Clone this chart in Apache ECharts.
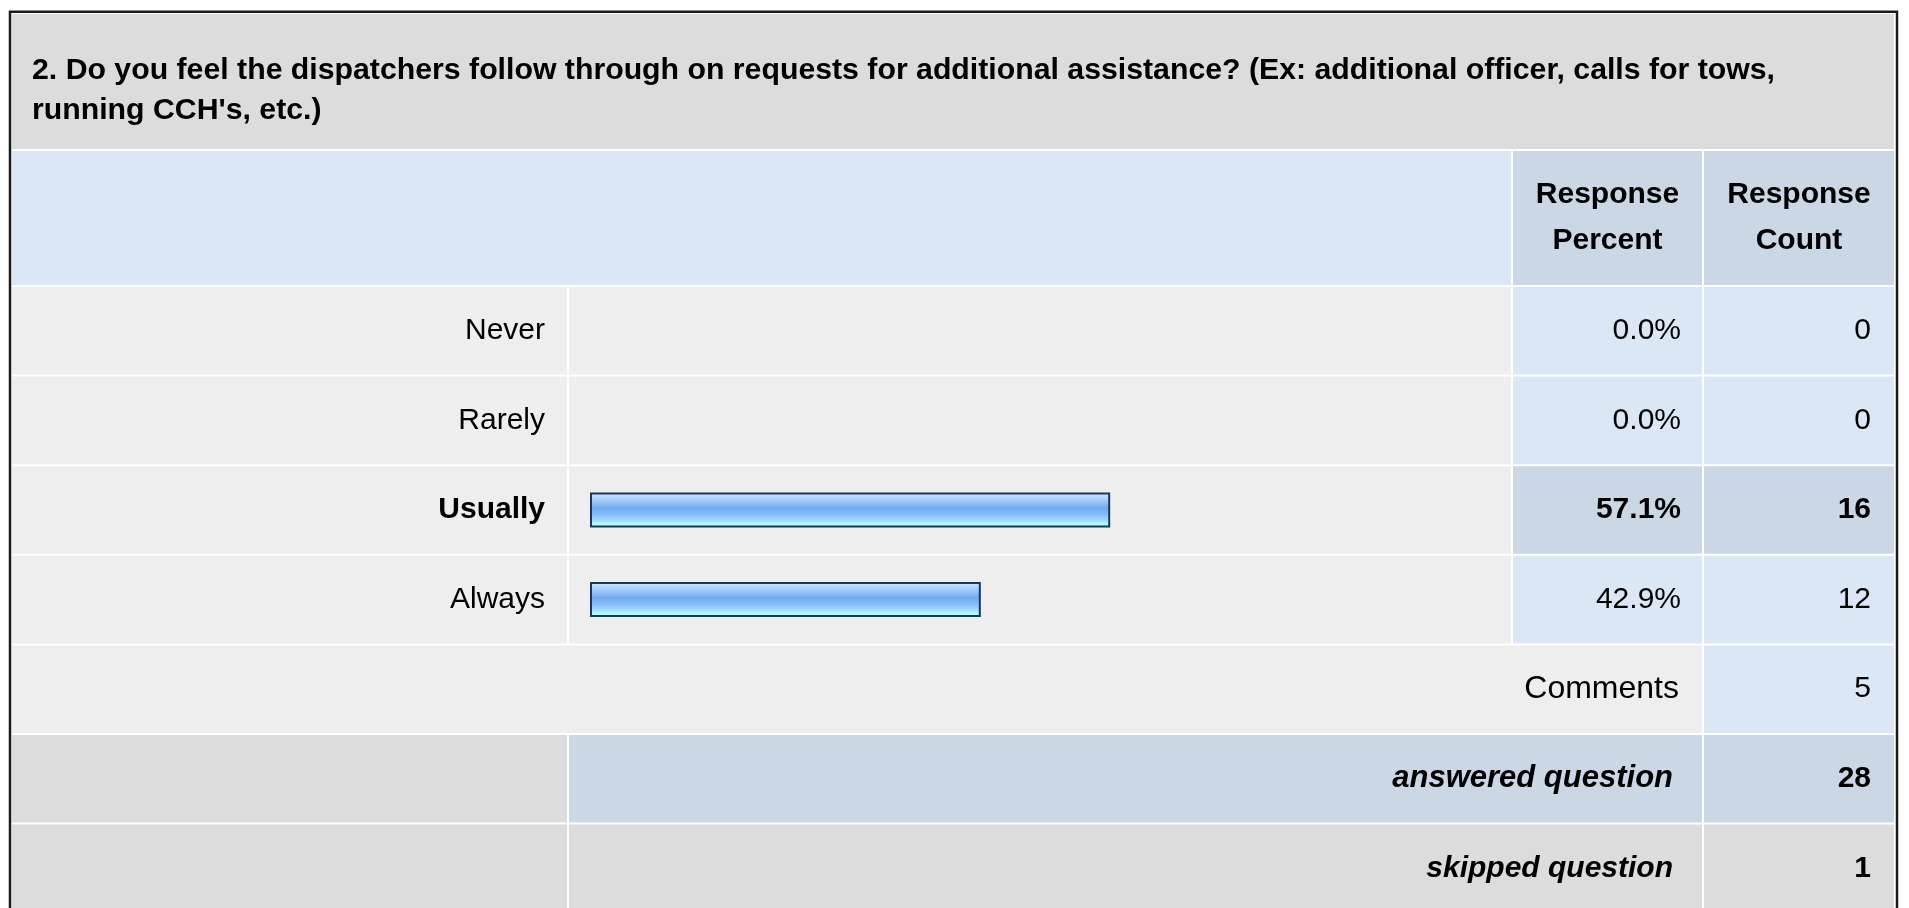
<!DOCTYPE html>
<html>
<head>
<meta charset="utf-8">
<title>Dispatcher follow-through</title>
<script src="https://cdn.jsdelivr.net/npm/echarts@6/dist/echarts.min.js"></script>
<style>
  html, body { margin: 0; padding: 0; background: #fff; }
  #chart { width: 1909px; height: 908px; }
</style>
</head>
<body>
<div id="chart"></div>
<script>
// Survey data
const questionText = "2. Do you feel the dispatchers follow through on requests for additional assistance? (Ex: additional officer, calls for tows,\nrunning CCH's, etc.)";
const answers = ['Never', 'Rarely', 'Usually', 'Always'];
const responsePercent = [0.0, 0.0, 57.1, 42.9];
const responseCount = [0, 0, 16, 12];
const headerLabels = ['Response\nPercent', 'Response\nCount'];
const commentsLabel = 'Comments';
const commentsCount = 5;
const answeredLabel = 'answered question';
const answeredCount = 28;
const skippedLabel = 'skipped question';
const skippedCount = 1;

// Table layout
const FONT = '"Liberation Sans", Arial, Helvetica, sans-serif';
const GAP = 2;
const TABLE_L = 12, TABLE_R = 1894;
const COL_LABEL_R = 567;      // label column right edge
const COL_BAR_R = 1511;       // bar column right edge
const COL_PCT_R = 1702;       // percent column right edge
const TITLE_T = 14, TITLE_B = 149;
const HEAD_T = 151, HEAD_B = 285;
const ROW_T = 287;            // first answer row top
const ROW_PITCH = 89.6;       // row height + gap
const BAR_LEFT = 590;         // 0% position
const BAR_FULL = 911;         // width of 100%
const PAD_R = 22;             // right padding of text inside cells

const C_TITLE = '#dcdcdc';
const C_LIGHT = '#eeeeee';
const C_BLUE = '#dce7f5';
const C_BLUE_DARK = '#cbd7e5';
const C_GRAY = '#dcdcdc';

const maxIdx = responseCount.indexOf(Math.max.apply(null, responseCount));

function rect(x1, y1, x2, y2, fill) {
  return { type: 'rect', z: -10, silent: true,
    shape: { x: x1, y: y1, width: x2 - x1, height: y2 - y1 },
    style: { fill: fill } };
}
function text(str, x, y, align, weight, style, size) {
  return { type: 'text', z: 50, silent: true,
    style: { text: str, x: x, y: y, align: align, verticalAlign: 'middle',
      font: (style || 'normal') + ' ' + (weight || 'normal') + ' ' + (size || 30) + 'px ' + FONT,
      fill: '#000', lineHeight: 46 } };
}

const pctL = COL_BAR_R + GAP, cntL = COL_PCT_R + GAP;
const graphics = [];
// title band and header row
graphics.push(rect(TABLE_L, TITLE_T, TABLE_R, TITLE_B, C_TITLE));
graphics.push(rect(TABLE_L, HEAD_T, COL_BAR_R, HEAD_B, C_BLUE));
graphics.push(rect(pctL, HEAD_T, COL_PCT_R, HEAD_B, C_BLUE_DARK));
graphics.push(rect(cntL, HEAD_T, TABLE_R, HEAD_B, C_BLUE_DARK));
graphics.push(text(headerLabels[0], (pctL + COL_PCT_R) / 2, (HEAD_T + HEAD_B) / 2, 'center', 'bold'));
graphics.push(text(headerLabels[1], (cntL + TABLE_R) / 2, (HEAD_T + HEAD_B) / 2, 'center', 'bold'));

// answer rows
answers.forEach(function (a, i) {
  const t = ROW_T + i * ROW_PITCH, b = t + ROW_PITCH - GAP;
  const cellBlue = i === maxIdx ? C_BLUE_DARK : C_BLUE;
  graphics.push(rect(TABLE_L, t, COL_LABEL_R, b, C_LIGHT));
  graphics.push(rect(COL_LABEL_R + GAP, t, COL_BAR_R, b, C_LIGHT));
  graphics.push(rect(pctL, t, COL_PCT_R, b, cellBlue));
  graphics.push(rect(cntL, t, TABLE_R, b, cellBlue));
});

// summary rows
const n = answers.length;
function rowTop(k) { return ROW_T + k * ROW_PITCH; }
let t = rowTop(n), b = t + ROW_PITCH - GAP;
graphics.push(rect(TABLE_L, t, COL_PCT_R, b, C_LIGHT));
graphics.push(rect(cntL, t, TABLE_R, b, C_BLUE));
graphics.push(text(commentsLabel, COL_PCT_R - PAD_R - 1, (t + b) / 2, 'right', 'normal', 'normal', 32));
graphics.push(text(String(commentsCount), TABLE_R - PAD_R - 1, (t + b) / 2, 'right'));

t = rowTop(n + 1); b = t + ROW_PITCH - GAP;
graphics.push(rect(TABLE_L, t, COL_LABEL_R, b, C_GRAY));
graphics.push(rect(COL_LABEL_R + GAP, t, COL_PCT_R, b, C_BLUE_DARK));
graphics.push(rect(cntL, t, TABLE_R, b, C_BLUE_DARK));
graphics.push(text(answeredLabel, COL_PCT_R - PAD_R - 7, (t + b) / 2, 'right', 'bold', 'italic', 31));
graphics.push(text(String(answeredCount), TABLE_R - PAD_R - 1, (t + b) / 2, 'right', 'bold'));

t = rowTop(n + 2); b = t + ROW_PITCH - GAP;
graphics.push(rect(TABLE_L, t, COL_LABEL_R, b, C_GRAY));
graphics.push(rect(COL_LABEL_R + GAP, t, COL_PCT_R, b, C_GRAY));
graphics.push(rect(cntL, t, TABLE_R, b, C_GRAY));
graphics.push(text(skippedLabel, COL_PCT_R - PAD_R - 7, (t + b) / 2, 'right', 'bold', 'italic'));
graphics.push(text(String(skippedCount), TABLE_R - PAD_R - 1, (t + b) / 2, 'right', 'bold'));

// outer frame
graphics.push({ type: 'rect', z: 60, silent: true,
  shape: { x: 10, y: 11.7, width: 1887, height: 1000 },
  style: { fill: 'none', stroke: '#1a1a1a', lineWidth: 2.5 } });

const rich = {
  n: { fontSize: 30, fontFamily: FONT, color: '#000' },
  b: { fontSize: 30, fontFamily: FONT, color: '#000', fontWeight: 'bold' }
};
function cellLabel(str, idx) {
  return (idx === maxIdx ? '{b|' : '{n|') + str + '}';
}

const barGradient = new echarts.graphic.LinearGradient(0, 0, 0, 1, [
  { offset: 0.0, color: '#d2eaff' },
  { offset: 0.18, color: '#a9d2ff' },
  { offset: 0.45, color: '#72aaee' },
  { offset: 0.62, color: '#84bbf6' },
  { offset: 0.8, color: '#a4d9ff' },
  { offset: 0.88, color: '#aafcff' },
  { offset: 1.0, color: '#b2ffff' }
]);

const gridTop = ROW_T - GAP / 2;
const option = {
  backgroundColor: '#ffffff',
  animation: false,
  title: {
    text: questionText,
    left: 32, top: 51, padding: 0,
    textStyle: { fontFamily: FONT, fontSize: 30.25, fontWeight: 'bold', color: '#000', lineHeight: 40 }
  },
  graphic: { elements: graphics },
  grid: {
    left: BAR_LEFT, top: gridTop, width: BAR_FULL, height: ROW_PITCH * n,
    containLabel: false
  },
  xAxis: {
    type: 'value', min: 0, max: 100, show: false
  },
  yAxis: [
    {
      type: 'category', data: answers, inverse: true,
      axisLine: { show: false }, axisTick: { show: false }, splitLine: { show: false },
      axisLabel: {
        margin: BAR_LEFT - (COL_LABEL_R - PAD_R), rich: rich,
        formatter: function (v, i) { return cellLabel(v, i); }
      }
    },
    {
      type: 'category', data: answers, inverse: true, position: 'right',
      offset: (COL_PCT_R - PAD_R + 1) - (BAR_LEFT + BAR_FULL),
      axisLine: { show: false }, axisTick: { show: false }, splitLine: { show: false },
      axisLabel: {
        margin: 0, align: 'right', rich: rich,
        formatter: function (v, i) { return cellLabel(responsePercent[i].toFixed(1) + '%', i); }
      }
    },
    {
      type: 'category', data: answers, inverse: true, position: 'right',
      offset: (TABLE_R - PAD_R - 1) - (BAR_LEFT + BAR_FULL),
      axisLine: { show: false }, axisTick: { show: false }, splitLine: { show: false },
      axisLabel: {
        margin: 0, align: 'right', rich: rich,
        formatter: function (v, i) { return cellLabel(String(responseCount[i]), i); }
      }
    }
  ],
  series: [{
    type: 'bar',
    yAxisIndex: 0,
    barWidth: 35,
    silent: true,
    data: responsePercent.map(function (v) {
      return { value: v, itemStyle: { borderWidth: v > 0 ? 2 : 0 } };
    }),
    itemStyle: { color: barGradient, borderColor: '#1d3658', borderWidth: 2 }
  }]
};

const chart = echarts.init(document.getElementById('chart'), null, { renderer: 'canvas' });
chart.setOption(option);
</script>
</body>
</html>
